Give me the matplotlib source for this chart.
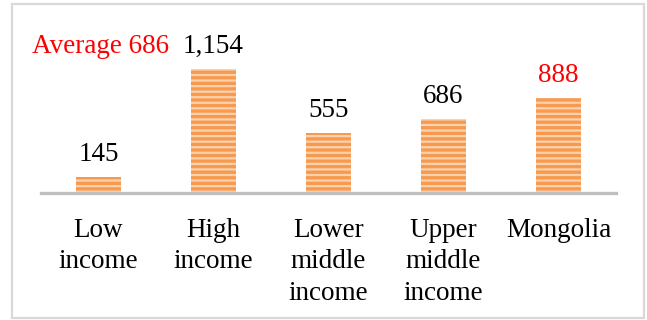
import numpy as np
import matplotlib.pyplot as plt
from matplotlib.patches import Rectangle

categories = ["Low\nincome", "High\nincome", "Lower\nmiddle\nincome", "Upper\nmiddle\nincome", "Mongolia"]
values = [145, 1154, 555, 686, 888]
value_labels = ["145", "1,154", "555", "686", "888"]
label_colors = ["black", "black", "black", "black", "red"]
average_text = "Average 686"

plt.rcParams['font.family'] = ['Liberation Serif', 'DejaVu Serif']
plt.rcParams['hatch.linewidth'] = 1.6

W, H = 647, 320
fig = plt.figure(figsize=(W / 100, H / 100), dpi=100)

# outer frame
fig.patches.append(Rectangle((12 / W, 2 / H), 632 / W, 314 / H, transform=fig.transFigure,
                             fill=False, edgecolor='#d9d9d9', linewidth=1.6))

ax = fig.add_axes([41 / W, 1 - 193 / H, 575 / W, 163 / H])
x = np.arange(len(values))
ax.bar(x, values, width=0.385, color='#f79a4f', edgecolor='#fcd2ae', linewidth=0, hatch='---')

for xi, v, lab, c in zip(x, values, value_labels, label_colors):
    ax.annotate(lab, (xi, v), xytext=(0, 11.5), textcoords='offset points',
                ha='center', va='baseline', fontsize=19.5, color=c)

ax.set_xlim(-0.5, 4.5)
ax.set_ylim(0, 163 / 0.1075)
ax.axhline(0, color='#bfbfbf', linewidth=2.4, clip_on=False)
for s in ax.spines.values():
    s.set_visible(False)
ax.set_yticks([])
ax.set_xticks(x)
ax.set_xticklabels(categories, fontsize=19.5, linespacing=1.33)
ax.tick_params(axis='x', length=0, pad=18)

fig.text(32 / W, 1 - 53 / H, average_text, color='red', fontsize=19.5, ha='left', va='baseline')

fig.savefig('out.png', dpi=100)
